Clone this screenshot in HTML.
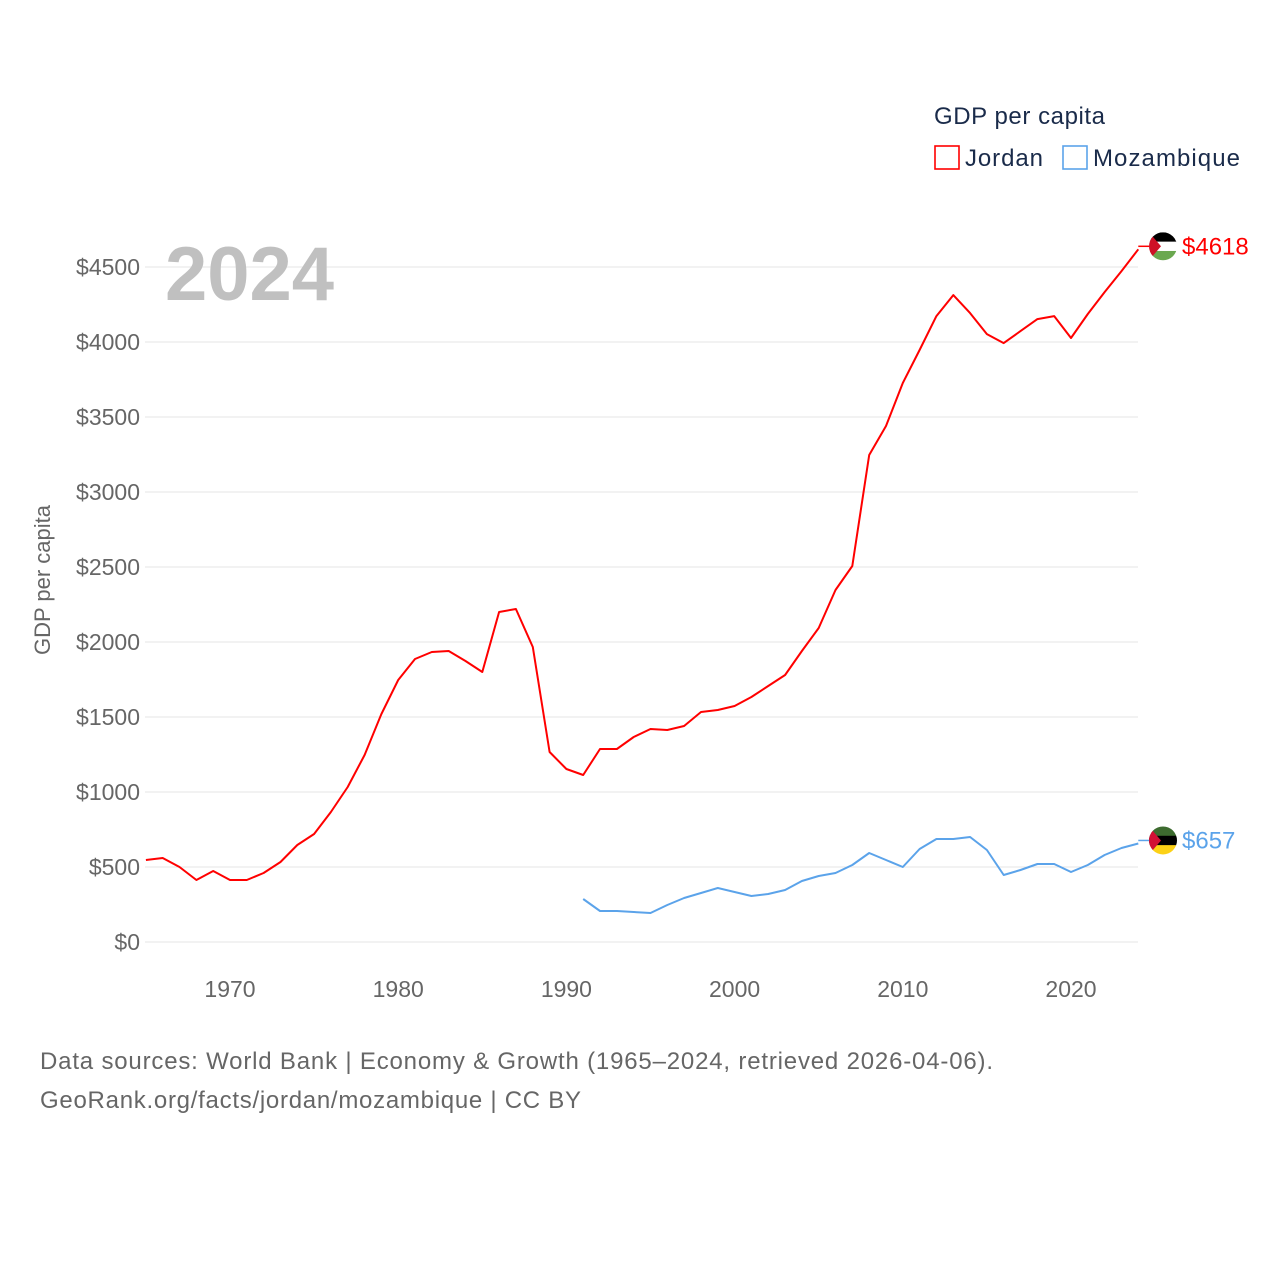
<!DOCTYPE html>
<html><head><meta charset="utf-8">
<style>
html,body{margin:0;padding:0;background:#fff;}
svg{display:block;font-family:"Liberation Sans",sans-serif;}
</style></head>
<body>
<svg id="chart" width="1280" height="1280" viewBox="0 0 1280 1280">
  <g id="grid"></g>
  <g id="yticks"></g>
  <g id="xticks"></g>
  <text x="165" y="300" font-size="76" font-weight="bold" fill="#c0c0c0">2024</text>
  <text transform="translate(50,580) rotate(-90)" text-anchor="middle" font-size="22" fill="#666">GDP per capita</text>
  <g id="series"></g>
  <g>
    <text x="934" y="124" font-size="24" fill="#1a2b4a" textLength="171">GDP per capita</text>
    <g>
      <rect x="935" y="146" width="24" height="23" fill="none" stroke="#ff0000" stroke-width="1.6"/>
      <text x="965" y="166" font-size="24" fill="#1a2b4a" textLength="78">Jordan</text>
    </g>
    <g>
      <rect x="1063" y="146" width="24" height="23" fill="none" stroke="#5ba3ea" stroke-width="1.6"/>
      <text x="1093" y="166" font-size="24" fill="#1a2b4a" textLength="147">Mozambique</text>
    </g>
  </g>
  <text x="40" y="1069" font-size="24" fill="#666" textLength="953">Data sources: World Bank | Economy &amp; Growth (1965–2024, retrieved 2026-04-06).</text>
  <text x="40" y="1108" font-size="24" fill="#666" textLength="541">GeoRank.org/facts/jordan/mozambique | CC BY</text>
</svg>
<script>
const yTicks=[0,500,1000,1500,2000,2500,3000,3500,4000,4500];
const xTicks=[1970,1980,1990,2000,2010,2020];
const jordanStart=1965;
const jordanValues=[547,560,500,413,473,413,413,460,533,647,720,867,1033,1247,1520,1747,1887,1933,1940,1873,1800,2200,2220,1967,1267,1153,1113,1287,1287,1367,1420,1413,1440,1533,1547,1573,1633,1707,1780,1940,2093,2347,2507,3247,3440,3727,3947,4173,4313,4193,4053,3993,4073,4153,4173,4027,4187,4333,4473,4618];
const mozStart=1991;
const mozValues=[287,207,207,200,193,247,293,327,360,333,307,320,347,407,440,460,513,593,547,500,620,687,687,700,613,447,480,520,520,467,513,580,627,657];
const NS="http://www.w3.org/2000/svg";
function X(yr){return 230+(yr-1970)*16.82;}
function Y(v){return 942-v*0.15;}
function mk(tag,attrs,parent){const e=document.createElementNS(NS,tag);for(const k in attrs)e.setAttribute(k,attrs[k]);parent.appendChild(e);return e;}
const grid=document.getElementById('grid'),yt=document.getElementById('yticks'),xt=document.getElementById('xticks'),ser=document.getElementById('series');
yTicks.forEach(v=>{
  const l=mk('line',{x1:145,x2:1138,y1:Y(v),y2:Y(v),stroke:'#e6e6e6','stroke-width':1},grid);
  
  
  const t=mk('text',{x:140,y:Y(v)+8,'text-anchor':'end','font-size':23,fill:'#666'},yt);
  t.textContent='$'+v;
  
  
});
xTicks.forEach(v=>{
  const t=mk('text',{x:X(v),y:997,'text-anchor':'middle','font-size':23,fill:'#666'},xt);
  t.textContent=v;
  
  
});
function drawSeries(start,vals,color,name,flag){
  const pts=vals.map((v,i)=>X(start+i).toFixed(1)+','+Y(v).toFixed(1)).join(' ');
  const p=mk('polyline',{points:pts,fill:'none',stroke:color,'stroke-width':2,'stroke-linejoin':'round'},ser);
  
  
  const last=vals[vals.length-1],lx=X(start+vals.length-1),ly=Y(last)-3;
  mk('line',{x1:lx,x2:1150,y1:ly,y2:ly,stroke:color,'stroke-width':1.5},ser);
  const g=mk('g',{},ser);
  
  
  const cx=1163,cy=ly,r=14;
  mk('clipPath',{id:'c'+name},g).appendChild(document.createElementNS(NS,'circle'));
  const cc=g.querySelector('clipPath circle');cc.setAttribute('cx',cx);cc.setAttribute('cy',cy);cc.setAttribute('r',r);
  const f=mk('g',{'clip-path':'url(#c'+name+')'},g);
  flag.forEach((c,i)=>mk('rect',{x:cx-r,y:cy-r+i*(2*r/3),width:2*r,height:2*r/3+0.5,fill:c},f));
  mk('polygon',{points:(cx-r)+','+(cy-r)+' '+(cx-2)+','+cy+' '+(cx-r)+','+(cy+r),fill:name==='jordan'?'#ce1126':'#d21034'},f);
  const t=mk('text',{x:1182,y:ly+8,'font-size':24,fill:color},ser);
  t.textContent='$'+last;
  
  
}
drawSeries(jordanStart,jordanValues,'#ff0000','jordan',['#000','#fff','#6aa84f']);
drawSeries(mozStart,mozValues,'#5ba3ea','mozambique',['#3d6b2f','#000','#fcd116']);
</script>
</body></html>
